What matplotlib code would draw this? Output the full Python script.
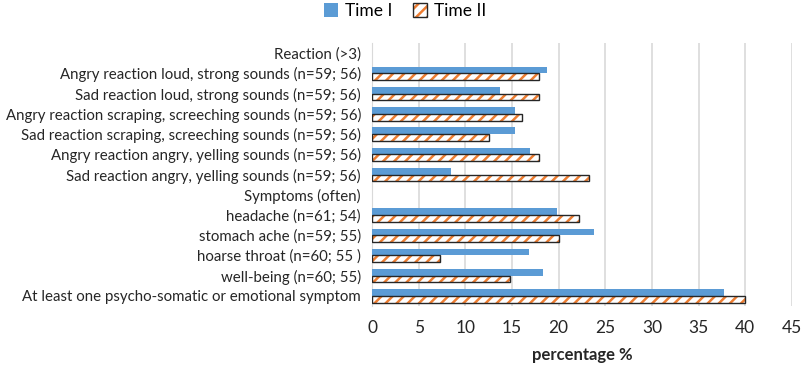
import matplotlib
matplotlib.use("Agg")
import matplotlib.pyplot as plt
import numpy as np

plt.rcParams['font.family'] = ['Lato', 'DejaVu Sans']
plt.rcParams['hatch.linewidth'] = 1.8

# categories from top to bottom
labels = [
    "Reaction (>3)",
    "Angry reaction loud, strong sounds (n=59; 56)",
    "Sad reaction loud, strong sounds (n=59; 56)",
    "Angry reaction scraping, screeching sounds (n=59; 56)",
    "Sad reaction scraping, screeching sounds (n=59; 56)",
    "Angry reaction angry, yelling sounds (n=59; 56)",
    "Sad reaction angry, yelling sounds (n=59; 56)",
    "Symptoms (often)",
    "headache (n=61; 54)",
    "stomach ache (n=59; 55)",
    "hoarse throat (n=60; 55 )",
    "well-being (n=60; 55)",
    "At least one psycho-somatic or emotional symptom",
]
# None = heading row without bars
time1 = [None, 18.7, 13.7, 15.3, 15.3, 16.9, 8.5, None, 19.8, 23.8, 16.8, 18.3, 37.7]
time2 = [None, 17.9, 17.9, 16.1, 12.5, 17.9, 23.3, None, 22.2, 20.0, 7.3, 14.8, 40.0]

orange = '#ED7D31'
blue = '#5B9BD5'

fig = plt.figure(figsize=(8.03, 3.71), dpi=100)
ax = fig.add_axes([0.4633, 0.175, 0.523, 0.709])

y = np.arange(len(labels))
t1 = np.array([np.nan if v is None else v for v in time1])
t2 = np.array([np.nan if v is None else v for v in time2])
ok1 = ~np.isnan(t1)
ok2 = ~np.isnan(t2)
h = 0.33
b1 = ax.barh(y[ok1] - h / 2, t1[ok1], height=h, color=blue, zorder=3)
b2 = ax.barh(y[ok2] + h / 2, t2[ok2], height=h, color='white', edgecolor=orange,
             linewidth=0, hatch='///', zorder=3)
b3 = ax.barh(y[ok2] + h / 2, t2[ok2], height=h, fill=False, edgecolor='#262626',
             linewidth=1.0, zorder=4)

ax.set_ylim(len(labels) - 0.5, -0.5)
ax.set_yticks(y)
ax.set_yticklabels(labels, fontsize=10.8, color='#262626')
ax.set_xlim(0, 45)
ax.set_xticks(range(0, 46, 5))
ax.tick_params(axis='x', labelsize=12.5, colors='#262626', length=0, pad=10)
ax.tick_params(axis='y', length=0, pad=8)
ax.grid(axis='x', color='#D9D9D9', linewidth=1.2, zorder=0)
for s in ['top', 'right', 'bottom']:
    ax.spines[s].set_visible(False)
ax.spines['left'].set_color('#D9D9D9')
ax.set_xlabel('percentage %', fontsize=12, fontweight='bold', color='#262626', labelpad=8)

fig.legend([b1[0], (b2[0], b3[0])], ['Time I', 'Time II'],
           loc='center', bbox_to_anchor=(0.505, 0.97), ncol=2, frameon=False,
           fontsize=12.5, handlelength=0.8, handleheight=0.8, columnspacing=1.2,
           handletextpad=0.4)

fig.savefig('out.png', dpi=100)
